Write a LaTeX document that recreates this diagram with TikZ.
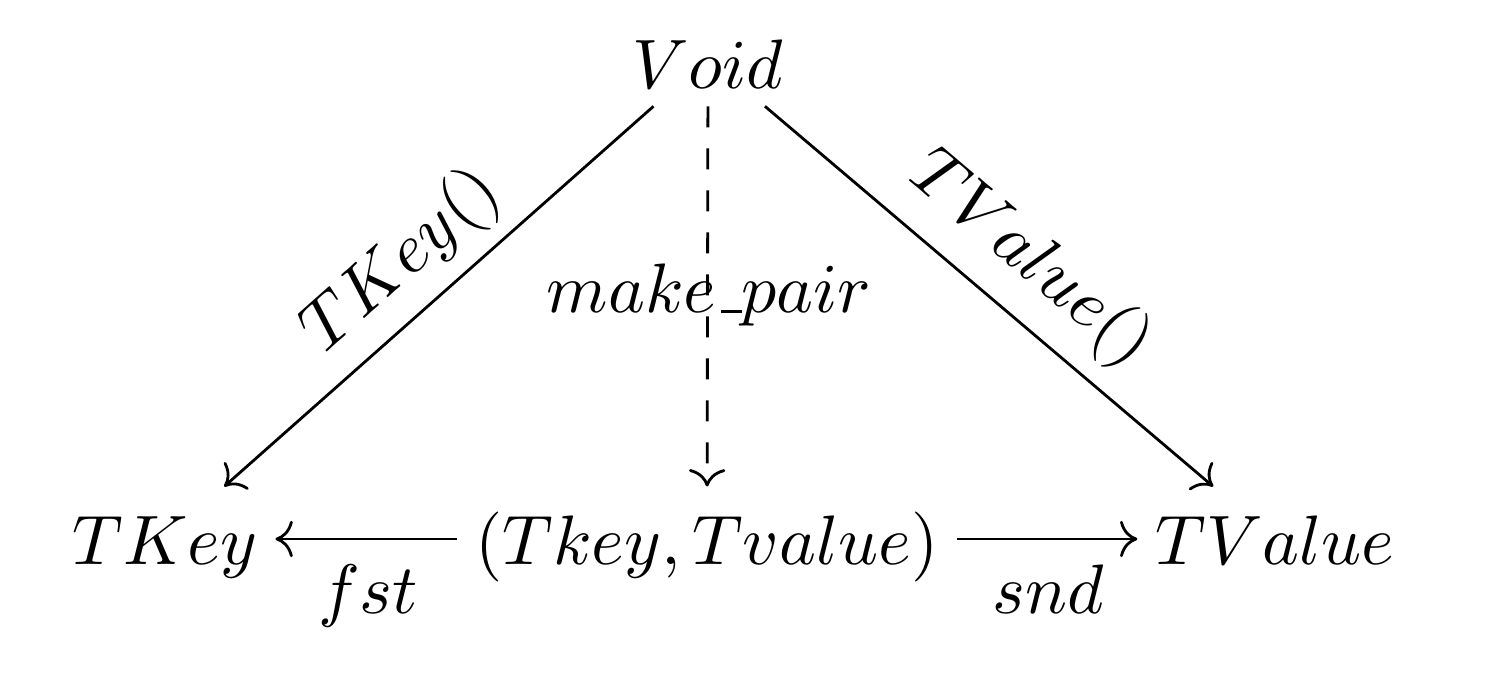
\documentclass[tikz,border=0pt]{standalone}
\usetikzlibrary{arrows.meta}
\begin{document}
\begin{tikzpicture}[x=0.142857pt,y=-0.142857pt,
  obj/.style={inner xsep=2.4pt, inner ysep=0pt},
  bot/.style={obj, text height=11pt, text depth=3.6pt},
  topobj/.style={obj, text height=11pt, text depth=2.4pt},
  lbl/.style={inner sep=0pt},
  arr/.style={-{Computer Modern Rightarrow}, line width=0.4pt}]
\useasboundingbox (0,0) rectangle (1494,674);
\node[topobj] (void) at (708,58) {$Void$};
\node[bot] (tkey) at (165,539) {$TKey$};
\node[bot] (pair) at (707,539) {$(Tkey, Tvalue)$};
\node[bot] (tval) at (1275,539) {$TValue$};
\draw[arr] (void) -- (tkey);
\draw[arr, dashed] (void) -- (pair);
\draw[arr] (void) -- (tval);
\draw[arr] (pair) -- (tkey);
\draw[arr] (pair) -- (tval);
\node[lbl, anchor=base] (fst) at (368,613) {$fst$};
\node[lbl, anchor=base] (snd) at (1048,613) {$snd$};
\node[lbl, anchor=base] (mk) at (709,313) {$make\kern.06em\vbox{\hrule width .3em}pair$};
\node[lbl, rotate=41.6] (tk) at (402,262) {$TKey()$};
\node[lbl, rotate=-40.3] (tv) at (1030,260) {$TValue()$};
\end{tikzpicture}
\end{document}
